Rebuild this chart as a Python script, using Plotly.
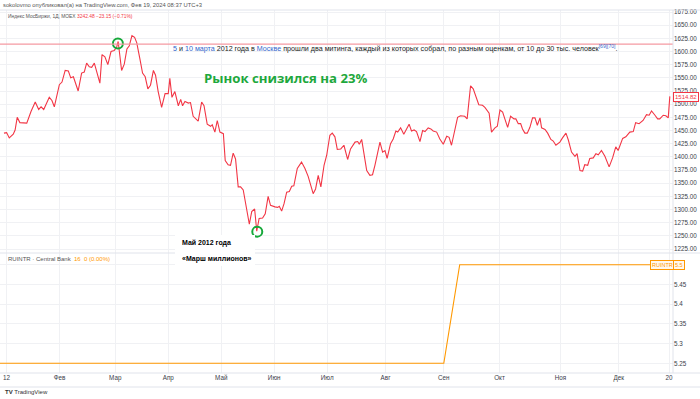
import plotly.graph_objects as go

W, H = 700, 399

# ---- data (trading-day index, MOEX index value) ----
day = [0.0, 1.0, 2.0, 3.5, 4.2, 5.0, 6.0, 8.6, 10.2, 11.8,
       13.1, 14.0, 15.0, 17.1, 18.1, 19.0, 20.9, 21.9, 23.1, 24.3,
       25.2, 26.2, 28.0, 29.3, 30.3, 31.2, 32.2, 33.1, 34.1, 36.2,
       37.0, 38.1, 39.2, 40.4, 41.6, 42.5, 43.1, 44.4, 45.4, 46.4,
       47.3, 48.3, 49.3, 50.1, 51.3, 52.3, 53.3, 54.3, 55.3, 56.4,
       57.2, 58.2, 59.5, 60.8, 62.0, 62.6, 63.4, 64.5, 65.8, 66.7,
       67.4, 68.3, 69.6, 70.4, 71.4, 73.3, 74.6, 75.5, 76.7, 78.0,
       78.6, 79.6, 80.5, 81.5, 82.8, 83.5, 84.6, 85.5, 86.5, 87.4,
       88.4, 89.3, 90.3, 91.3, 92.6, 93.5, 94.6, 95.4, 96.3, 97.6,
       98.6, 99.7, 100.6, 102.3, 103.3, 103.9, 104.8, 105.7, 106.7, 107.7,
       108.6, 109.4, 110.7, 112.3, 113.6, 114.8, 116.7, 117.6, 118.6, 119.6,
       120.8, 121.8, 123.0, 123.9, 124.9, 125.8, 127.1, 128.3, 129.7, 130.8,
       132.5, 133.5, 134.1, 135.0, 136.2, 136.9, 138.1, 139.1, 140.0, 141.9,
       142.9, 143.8, 144.6, 145.9, 146.9, 147.9, 148.6, 149.7, 150.9, 151.9,
       152.9, 153.8, 154.8, 155.7, 157.0, 158.0, 158.9, 160.1, 161.1, 162.0,
       163.3, 164.5, 165.8, 167.1, 168.0, 168.9, 170.2, 171.2, 172.3, 173.9,
       174.8, 176.1, 177.1, 178.4, 179.2, 180.6, 181.5, 183.1, 184.0, 185.3,
       186.2, 187.2, 188.2, 189.1, 190.1, 191.2, 192.5, 193.2, 194.1, 195.0,
       195.7, 196.6, 197.5, 198.5, 199.5, 200.4, 201.3, 202.3, 202.9, 204.2,
       205.2, 206.4, 207.3, 208.3, 209.8, 210.8, 212.1, 213.0, 214.2, 215.5,
       216.3, 217.4, 218.4, 219.2, 220.3, 221.1, 222.4, 223.4, 224.3, 225.5,
       226.8, 228.4, 229.7, 230.9, 231.8, 233.5, 234.7, 236.2, 237.5, 238.4,
       239.7, 241.2, 242.5, 243.5, 244.4, 245.7, 246.7, 247.5, 248.8, 249.8,
       250.7, 251.3]

price = [1445, 1446, 1436, 1443, 1451, 1475, 1465, 1464, 1486, 1504,
         1490, 1495, 1490, 1513, 1507, 1495, 1537, 1542, 1564, 1563,
         1550, 1552, 1525, 1559, 1561, 1578, 1571, 1570, 1578, 1540,
         1594, 1590, 1575, 1600, 1602, 1608, 1619, 1564, 1576, 1605,
         1611, 1630, 1627, 1617, 1586, 1559, 1552, 1529, 1536, 1564,
         1555, 1524, 1494, 1520, 1520, 1549, 1513, 1524, 1497, 1509,
         1497, 1505, 1502, 1503, 1477, 1468, 1504, 1497, 1462, 1458,
         1461, 1447, 1469, 1447, 1444, 1393, 1385, 1384, 1407, 1396,
         1343, 1343, 1337, 1305, 1272, 1296, 1301, 1259, 1283, 1284,
         1292, 1325, 1308, 1305, 1304, 1306, 1297, 1311, 1333, 1334,
         1344, 1345, 1378, 1390, 1378, 1363, 1330, 1339, 1365, 1343,
         1384, 1403, 1441, 1445, 1438, 1414, 1415, 1422, 1395, 1415,
         1428, 1429, 1424, 1433, 1397, 1374, 1365, 1366, 1384, 1428,
         1409, 1412, 1397, 1425, 1434, 1449, 1447, 1455, 1443, 1452,
         1462, 1449, 1451, 1448, 1429, 1450, 1448, 1455, 1453, 1449,
         1447, 1434, 1424, 1439, 1437, 1422, 1456, 1475, 1478, 1477,
         1472, 1535, 1529, 1508, 1499, 1498, 1494, 1483, 1447, 1455,
         1458, 1489, 1485, 1471, 1456, 1477, 1472, 1472, 1463, 1463,
         1453, 1445, 1445, 1456, 1474, 1474, 1460, 1474, 1455, 1452,
         1445, 1433, 1430, 1422, 1428, 1436, 1445, 1432, 1409, 1401,
         1406, 1374, 1373, 1385, 1384, 1397, 1398, 1406, 1404, 1412,
         1401, 1381, 1398, 1419, 1412, 1435, 1438, 1447, 1448, 1465,
         1463, 1469, 1480, 1479, 1487, 1479, 1472, 1472, 1479, 1478,
         1474, 1514.82]

# Central bank rate (RUINTR)
rate_day = [-5, 166, 172, 256]
rate = [5.25, 5.25, 5.5, 5.5]

# month ticks (trading-day index of month start)
month_pos = [1, 21, 42, 62, 82, 102, 122, 144, 166, 187, 210, 232, 251]
month_lbl = ['12', 'Фев', 'Мар', 'Апр', 'Май', 'Июн', 'Июл', 'Авг', 'Сен',
             'Окт', 'Ноя', 'Дек', '20']

level = 1614                    # horizontal level line
mark_day = [43.0, 95.6]         # highlighted extremes
mark_val = [1615, 1258]
last_price = price[-1]
last_rate = rate[-1]

# ---- helpers ----
def px(x):
    return x / W

def py(y):
    return 1 - y / H

RED = '#f23645'
ORANGE = '#ff9800'
GREEN = '#16a83a'
GRID = '#f0f1f4'
FRAME = '#e0e3eb'
TXT = '#3a3e4a'
FONT = 'Liberation Sans, Arial, sans-serif'

X_END = 673
TOP0, TOP1 = 10, 252.7
BOT0, BOT1 = 253, 373

fig = go.Figure()
fig.add_trace(go.Scatter(x=day, y=price, mode='lines',
                         line=dict(color=RED, width=1.1),
                         xaxis='x', yaxis='y', hoverinfo='skip'))
fig.add_trace(go.Scatter(x=mark_day, y=mark_val, mode='markers',
                         marker=dict(symbol='circle-open', size=10, color=GREEN,
                                     line=dict(color=GREEN, width=2)),
                         xaxis='x', yaxis='y', hoverinfo='skip'))
fig.add_trace(go.Scatter(x=rate_day, y=rate, mode='lines',
                         line=dict(color=ORANGE, width=1.1),
                         xaxis='x2', yaxis='y2', hoverinfo='skip'))

axis_common = dict(showgrid=True, gridcolor=GRID, gridwidth=1, zeroline=False,
                   showline=False, ticks='', ticklen=0, automargin=False)

fig.update_layout(
    width=W, height=H,
    margin=dict(l=0, r=0, t=0, b=0),
    paper_bgcolor='white', plot_bgcolor='white',
    showlegend=False,
    font=dict(family=FONT, color=TXT),
    xaxis=dict(domain=[0, px(X_END)], range=[-1.5, 252.5], anchor='y',
               tickvals=month_pos, showticklabels=False, **axis_common),
    yaxis=dict(domain=[py(TOP1), py(TOP0)], range=[1218.0, 1678.8], anchor='x',
               side='right', tick0=0, dtick=25, tickformat='.2f',
               tickfont=dict(size=6.3, color=TXT, family=FONT), **axis_common),
    xaxis2=dict(domain=[0, px(X_END)], range=[-1.5, 252.5], anchor='y2',
                matches='x', tickvals=month_pos, ticktext=month_lbl,
                showticklabels=True, tickfont=dict(size=6.3, color=TXT, family=FONT),
                **axis_common),
    yaxis2=dict(domain=[py(BOT1), py(BOT0)], range=[5.2254, 5.5297], anchor='x2',
                side='right', tick0=5, dtick=0.05,
                tickfont=dict(size=6.3, color=TXT, family=FONT), **axis_common),
)

shapes = [
    # level line
    dict(type='line', xref='x domain', yref='y', x0=0, x1=1, y0=level, y1=level,
         line=dict(color='#f59aa2', width=1.2), layer='above'),
    # frame lines
    dict(type='line', xref='paper', yref='paper', x0=0, x1=1, y0=py(TOP0), y1=py(TOP0),
         line=dict(color=FRAME, width=1)),
    dict(type='line', xref='paper', yref='paper', x0=0, x1=1, y0=py(TOP1 + 0.3), y1=py(TOP1 + 0.3),
         line=dict(color=FRAME, width=1)),
    dict(type='line', xref='paper', yref='paper', x0=0, x1=1, y0=py(BOT1), y1=py(BOT1),
         line=dict(color=FRAME, width=1)),
    dict(type='line', xref='paper', yref='paper', x0=px(X_END), x1=px(X_END), y0=py(BOT1), y1=py(TOP0),
         line=dict(color=FRAME, width=1)),
    dict(type='line', xref='paper', yref='paper', x0=0, x1=1, y0=py(387), y1=py(387),
         line=dict(color=FRAME, width=1)),
    # white box behind caption
    dict(type='rect', xref='paper', yref='paper', x0=px(175), x1=px(255), y0=py(266), y1=py(235),
         fillcolor='white', line=dict(width=0), layer='above'),
]
fig.update_layout(shapes=shapes)

ann = []
def note(text, x, y, size, color=TXT, anchor='left', family=FONT, **kw):
    ann.append(dict(text=text, x=px(x), y=py(y), xref='paper', yref='paper',
                    xanchor=anchor, yanchor='middle', showarrow=False,
                    font=dict(size=size, color=color, family=family), **kw))

note('sokolovmo опубликовал(а) на TradingView.com, Фев 19, 2024 08:37 UTC+3', 1, 5, 5.8, '#555')
note('Индекс МосБиржи, 1Д, MOEX <span style="color:#f23645">3242.48 −23.15 (−0.71%)</span>',
     6, 16.5, 4.9, '#555')

BLUE = '#3366cc'
quote = ('<span style="color:%s">5</span> и <span style="color:%s">10 марта</span> 2012 года в '
         '<span style="color:%s">Москве</span> прошли два митинга, каждый из которых собрал, '
         'по разным оценкам, от 10 до 30 тыс. человек<sup><span style="color:%s">[69][70]</span></sup>.'
         % (BLUE, BLUE, BLUE, BLUE))
note(quote, 171, 47.5, 7.15, '#202122')
note('<b>Рынок снизился на 23%</b>', 202, 78.5, 13.2, '#1ea83c', family='Open Sans, sans-serif')
note('<b>Май 2012 года</b>', 180, 242.7, 7, '#000')
note('<b>«Марш миллионов»</b>', 180, 259.3, 7, '#000')
note('RUINTR · Central Bank  <span style="color:#ff9800">16  0 (0.00%)</span>', 6, 259, 6, '#555')

# price tags
note('%.2f' % last_price, 686, 96.7, 6, RED, anchor='center',
     bgcolor='white', bordercolor=RED, borderwidth=1, borderpad=1)
note('RUINTR', 662, 264.7, 5.5, ORANGE, anchor='center',
     bgcolor='#fff8ee', bordercolor=ORANGE, borderwidth=1, borderpad=1)
note('%g' % last_rate, 678.5, 264.7, 5.5, ORANGE, anchor='center',
     bgcolor='#fff8ee', bordercolor=ORANGE, borderwidth=1, borderpad=1)

note('<b>TV</b> TradingView', 3, 392, 6, '#333')
fig.update_layout(annotations=ann)

fig.write_html('out.html', config={'displayModeBar': False},
               post_script="document.body.style.margin='0';")
